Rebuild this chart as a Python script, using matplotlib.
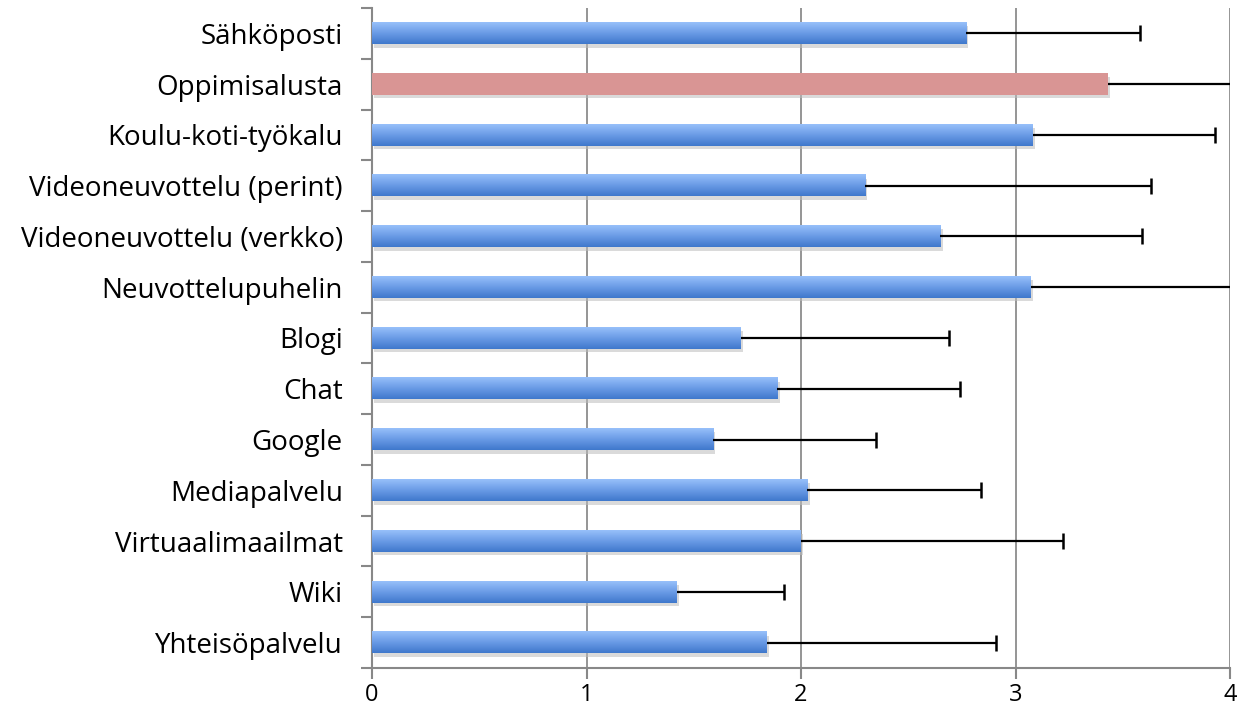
import numpy as np
import matplotlib
matplotlib.use("Agg")
import matplotlib.pyplot as plt
from matplotlib.colors import LinearSegmentedColormap

categories = ["Sähköposti", "Oppimisalusta", "Koulu-koti-työkalu", "Videoneuvottelu (perint)",
              "Videoneuvottelu (verkko)", "Neuvottelupuhelin", "Blogi", "Chat", "Google",
              "Mediapalvelu", "Virtuaalimaailmat", "Wiki", "Yhteisöpalvelu"]
means = [2.77, 3.43, 3.08, 2.30, 2.65, 3.07, 1.72, 1.89, 1.59, 2.03, 2.00, 1.42, 1.84]
upper = [3.58, 4.10, 3.93, 3.63, 3.59, 4.10, 2.69, 2.74, 2.35, 2.84, 3.22, 1.92, 2.91]
highlight = "Oppimisalusta"

plt.rcParams["font.family"] = ["Open Sans", "DejaVu Sans"]
fig = plt.figure(figsize=(12.38, 7.12), dpi=100)
ax = fig.add_axes([372/1238, 1 - 668/712, (1230-372)/1238, (668-8)/712])

n = len(categories)
ys = np.arange(n)[::-1]  # first category at top
h = 0.42
blue = LinearSegmentedColormap.from_list("b", ["#3f78cc", "#6a9be6", "#97c0fa"])
grad = np.linspace(0, 1, 64).reshape(-1, 1)

for y, cat, m, u in zip(ys, categories, means, upper):
    # soft shadow
    ax.barh(y - 0.07, m, height=h, left=0.01, color="#bdbdbd", alpha=0.55, zorder=2, linewidth=0)
    if cat == highlight:
        ax.barh(y, m, height=h, color="#d99594", zorder=3, linewidth=0)
    else:
        ax.imshow(grad, extent=(0, m, y - h/2, y + h/2), origin="lower", cmap=blue,
                  aspect="auto", zorder=3, interpolation="bilinear")
    # one-sided error bar, cap only at the far end
    ax.plot([m, u], [y, y], color="black", lw=1.6, zorder=4, solid_capstyle="butt")
    ax.plot([u], [y], marker="|", ms=11, mew=1.8, color="black", zorder=4)

ax.set_xlim(0, 4)
ax.set_ylim(-0.5, n - 0.5)
ax.set_xticks([0, 1, 2, 3, 4])
ax.set_yticks(ys)
ax.set_yticklabels(categories, fontsize=20)
ax.set_yticks(np.arange(-0.5, n, 1), minor=True)
ax.tick_params(axis="y", which="major", length=0, pad=21)
ax.tick_params(axis="y", which="minor", length=8, color="#888888", width=1.5)
ax.tick_params(axis="x", labelsize=17, length=8, color="#888888", width=1.5, pad=3)
ax.grid(axis="x", color="#8c8c8c", linewidth=1.3, zorder=0)
ax.set_axisbelow(True)
for s in ["top", "right"]:
    ax.spines[s].set_visible(False)
for s in ["left", "bottom"]:
    ax.spines[s].set_color("#888888")
    ax.spines[s].set_linewidth(1.5)

fig.savefig("out.png", dpi=100)
